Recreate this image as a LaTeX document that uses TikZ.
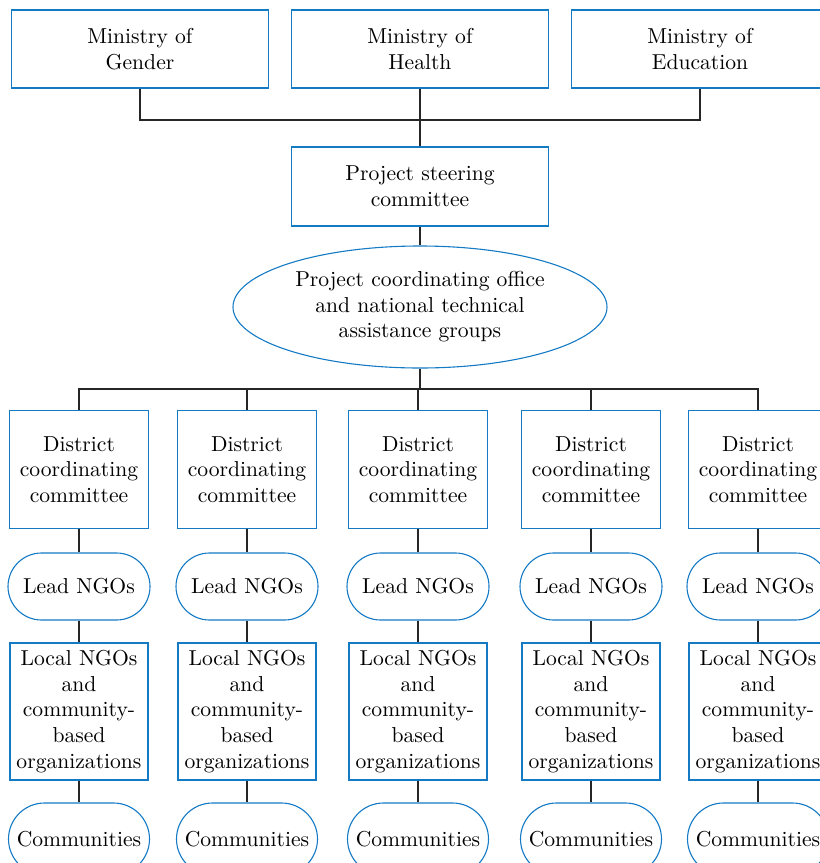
\documentclass[tikz,border=0pt]{standalone}
\usetikzlibrary{shapes.geometric,shapes.misc}
\definecolor{boxblue}{RGB}{20,122,196}
\tikzset{
  unit/.style={draw=boxblue, line width=0.55pt, align=center, inner sep=0pt,
    font=\fontsize{10.8}{12.8}\selectfont},
  ministry/.style={unit, rectangle, minimum width=128.5pt, minimum height=39pt},
  district/.style={unit, rectangle, minimum width=69.5pt, minimum height=59pt},
  localbox/.style={unit, rectangle, minimum width=69pt, minimum height=68.5pt},
  pill/.style={unit, rounded rectangle, minimum width=71pt, minimum height=33.5pt},
  office/.style={unit, ellipse, minimum width=187pt, minimum height=61pt},
  link/.style={line width=0.65pt, black!85}
}
\begin{document}
\begin{tikzpicture}[x=0.5pt, y=-0.5pt]
\useasboundingbox (0,0) rectangle (820,863);
\clip (0,0) rectangle (820,863);
% ministries and steering
\node[ministry] (mg) at (140,49) {Ministry of\\Gender};
\node[ministry] (mh) at (420,49) {Ministry of\\Health};
\node[ministry] (me) at (700,49) {Ministry of\\Education};
\node[ministry, minimum height=39.5pt] (psc) at (420,186.5) {Project steering\\committee};
\node[office] (pco) at (420,307) {Project coordinating office\\and national technical\\assistance groups};
\coordinate (topbar) at (420,120);
\draw[link] (mg.south) |- (topbar) -| (me.south);
\draw[link] (mh.south) -- (psc.north);
\draw[link] (psc.south) -- (pco.north);
% districts
\foreach \i/\x in {1/79,2/247,3/418,4/591,5/758}
{
    \node[district] (d\i) at (\x,469.5) {District\\coordinating\\committee};
    \node[pill] (l\i) at (\x,586.5) {Lead NGOs};
    \node[localbox] (o\i) at (\x,711.5) {Local NGOs\\and\\community-\\based\\organizations};
    \node[pill, minimum width=70.5pt, minimum height=36pt] (c\i) at (\x,839) {Communities};
    \draw[link] (d\i.south) -- (l\i.north);
    \draw[link] (l\i.south) -- (o\i.north);
    \draw[link] (o\i.south) -- (c\i.north);
}
\coordinate (distbar) at (420,389);
\draw[link] (pco.south) -- (distbar);
\draw[link] (d1.north) |- (distbar) -| (d5.north);
\foreach \i in {2,3,4}
    \draw[link] (d\i.north) -- (d\i.north |- distbar);

\end{tikzpicture}
\end{document}
